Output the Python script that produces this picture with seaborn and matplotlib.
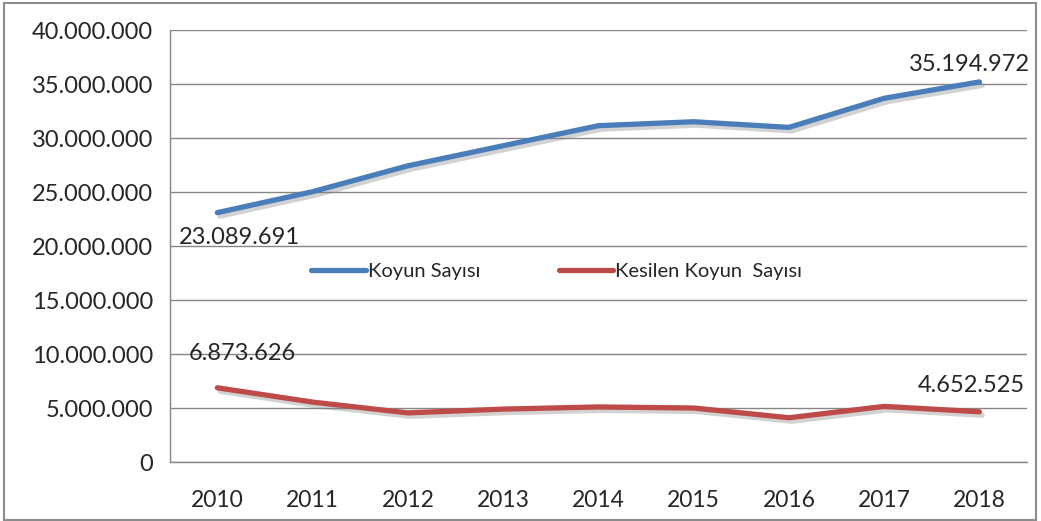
import matplotlib
matplotlib.use('Agg')
import pandas as pd
import seaborn as sns
import numpy as np
from matplotlib import pyplot as plt
from matplotlib import patheffects as pe
from matplotlib.ticker import FuncFormatter, FixedLocator

years = ["2010", "2011", "2012", "2013", "2014", "2015", "2016", "2017", "2018"]
koyun = [23089691, 25031565, 27425233, 29284247, 31140244, 31507934, 30983933, 33677636, 35194972]
kesilen = [6873626, 5550000, 4550000, 4900000, 5100000, 5000000, 4100000, 5150000, 4652525]
series_names = ["Koyun Sayısı", "Kesilen Koyun  Sayısı"]
colors = ["#4A7EBB", "#BE4B48"]

sns.set_style("white")
plt.rcParams['font.family'] = ['Lato', 'DejaVu Sans']

df = pd.DataFrame({
    "Yil": years * 2,
    "Deger": koyun + kesilen,
    "Seri": [series_names[0]] * len(years) + [series_names[1]] * len(years),
})

fig = plt.figure(figsize=(10.41, 5.21), dpi=100)
ax = fig.add_axes([0.163, 0.1132, 0.8236, 0.8292])

sns.lineplot(data=df, x="Yil", y="Deger", hue="Seri", palette=colors,
             linewidth=3.8, ax=ax, sort=False)

shadow = [pe.SimpleLineShadow(offset=(2, -2.5), shadow_color="gray", alpha=0.35), pe.Normal()]
for line in ax.get_lines():
    line.set_path_effects(shadow)
    line.set_solid_capstyle("round")

ax.set_xlim(-0.5, 8.5)
ax.set_ylim(0, 40000000)
ax.set_yticks(np.arange(0, 40000001, 5000000))
ax.yaxis.set_major_formatter(FuncFormatter(lambda v, p: f"{int(v):,}".replace(",", ".")))
ax.xaxis.set_minor_locator(FixedLocator(np.arange(-0.5, 9, 1)))
ax.tick_params(axis="x", which="major", length=0, pad=20, labelsize=16.5)
ax.tick_params(axis="x", which="minor", length=8, color="#868686", width=1)
ax.tick_params(axis="y", length=8, color="#868686", width=1, labelsize=17, pad=4)
ax.yaxis.grid(True, color="#868686", linewidth=1)
ax.set_axisbelow(True)
for s in ["top", "right"]:
    ax.spines[s].set_visible(False)
for s in ["left", "bottom"]:
    ax.spines[s].set_color("#868686")
    ax.spines[s].set_linewidth(1)
ax.set_xlabel("")
ax.set_ylabel("")

fmt = lambda v: f"{v:,}".replace(",", ".")
ax.annotate(fmt(koyun[0]), (0, koyun[0]), xytext=(22, -25), textcoords="offset pixels",
            ha="center", va="center", fontsize=17)
ax.annotate(fmt(koyun[-1]), (8, koyun[-1]), xytext=(-10, 17), textcoords="offset pixels",
            ha="center", va="center", fontsize=17)
ax.annotate(fmt(kesilen[0]), (0, kesilen[0]), xytext=(25, 34), textcoords="offset pixels",
            ha="center", va="center", fontsize=17)
ax.annotate(fmt(kesilen[-1]), (8, kesilen[-1]), xytext=(-8, 26), textcoords="offset pixels",
            ha="center", va="center", fontsize=17)

leg = ax.legend(loc="center left", bbox_to_anchor=(0.144, 0.442), ncol=2, frameon=False,
                fontsize=14.5, handlelength=2.7, handletextpad=0.1, columnspacing=3.9)
for h in leg.get_lines():
    h.set_linewidth(3.8)
    h.set_path_effects([])

fig.patches.append(plt.Rectangle((0.004, 0.002), 0.991, 0.992, transform=fig.transFigure,
                                 fill=False, edgecolor="#8c8c8c", linewidth=1.5))

fig.savefig("out.png", dpi=100)
